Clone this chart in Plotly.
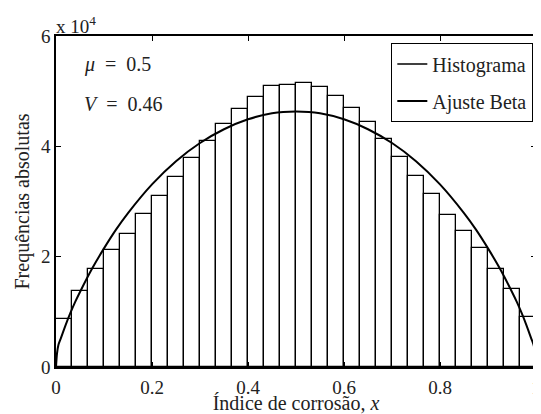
import plotly.graph_objects as go

# Histogram (units of 1e4), 30 bins on [0, 1]
bin_left = [i / 30 for i in range(30)]
counts = [0.87, 1.38, 1.78, 2.12, 2.42, 2.77, 3.10, 3.45, 3.78, 4.10,
          4.41, 4.68, 4.90, 5.09, 5.12, 5.14, 5.07, 4.91, 4.70, 4.44,
          4.14, 3.80, 3.46, 3.14, 2.75, 2.46, 2.15, 1.77, 1.42, 0.90]

# Beta fit curve (units of 1e4)
fit_x = [0, 0.002, 0.005, 0.01, 0.02, 0.03, 0.04, 0.05, 0.075, 0.1, 0.125, 0.15, 0.2,
         0.25, 0.3, 0.35, 0.4, 0.45, 0.5, 0.55, 0.6, 0.65, 0.7, 0.75, 0.8, 0.85,
         0.875, 0.9, 0.925, 0.95, 0.96, 0.97, 0.98, 0.99, 0.995, 0.998, 1.0]
fit_y = [0, 0.24, 0.40, 0.52, 0.76, 0.98, 1.18, 1.36, 1.78, 2.15, 2.49, 2.79, 3.31,
         3.73, 4.06, 4.31, 4.49, 4.60, 4.63, 4.60, 4.49, 4.31, 4.06, 3.73, 3.31, 2.79,
         2.49, 2.15, 1.78, 1.36, 1.18, 0.98, 0.76, 0.52, 0.40, 0.24, 0]

x_ticks = [0, 0.2, 0.4, 0.6, 0.8, 1]
x_tick_text = ["0", "0.2", "0.4", "0.6", "0.8", "1"]
y_ticks = [0, 2, 4, 6]
y_tick_text = ["0", "2", "4", "6"]

FONT = "Liberation Serif, DejaVu Serif, Times New Roman, serif"
TXT = "#222"
width = 1 / 30
centers = [b + width / 2 for b in bin_left]

fig = go.Figure()
fig.add_trace(go.Bar(
    x=centers, y=counts, width=width,
    marker=dict(color="white", line=dict(color="black", width=1.3)),
    showlegend=False,
))
# legend proxy for histogram (line sample as in reference)
fig.add_trace(go.Scatter(
    x=[None], y=[None], mode="lines", name="Histograma", legendgroup="h",
    line=dict(color="black", width=1.3),
))
fig.add_trace(go.Scatter(
    x=fit_x, y=fit_y, mode="lines", name="Ajuste Beta", legendgroup="b",
    line=dict(color="black", width=2, shape="spline", smoothing=0.6),
))

fig.update_layout(
    width=533, height=406,
    margin=dict(l=48, r=0, t=28, b=44),
    paper_bgcolor="white", plot_bgcolor="white",
    font=dict(family=FONT, size=20, color=TXT),
    bargap=0,
    showlegend=True,
    legend=dict(
        x=0.994, y=0.978, xanchor="right", yanchor="top",
        bgcolor="white", bordercolor="black", borderwidth=1.2,
        font=dict(family=FONT, size=20, color=TXT),
        itemwidth=30, tracegroupgap=8,
    ),
    xaxis=dict(
        range=[0, 1], tickvals=x_ticks, ticktext=x_tick_text,
        ticks="inside", ticklen=5, tickcolor="black", tickwidth=1,
        showline=True, linecolor="black", linewidth=1.5, mirror="ticks",
        showgrid=False, zeroline=False,
        ticklabelstandoff=2, ticklabeloverflow="allow",
        title=dict(text="Índice de corrosão, <i>x</i>", standoff=2,
                   font=dict(family=FONT, size=20)),
        tickfont=dict(family=FONT, size=19),
    ),
    yaxis=dict(
        range=[0, 6], tickvals=y_ticks, ticktext=y_tick_text,
        ticks="inside", ticklen=5, tickcolor="black", tickwidth=1,
        showline=True, linecolor="black", linewidth=1.5, mirror="ticks",
        showgrid=False, zeroline=False,
        title=dict(text="Frequências absolutas", standoff=6,
                   font=dict(family=FONT, size=20)),
        tickfont=dict(family=FONT, size=19),
    ),
    annotations=[
        dict(text="x 10<sup>4</sup>", xref="paper", yref="paper", x=0, y=1,
             xanchor="left", yanchor="bottom", showarrow=False, yshift=-3, xshift=-2,
             font=dict(family=FONT, size=19)),
        dict(text="<i>μ</i>\u2002=\u20020.5", xref="paper", yref="paper", x=0.054, y=0.913,
             xanchor="left", yanchor="middle", showarrow=False,
             font=dict(family=FONT, size=20)),
        dict(text="<i>V</i>\u2002=\u20020.46", xref="paper", yref="paper", x=0.054, y=0.796,
             xanchor="left", yanchor="middle", showarrow=False,
             font=dict(family=FONT, size=20)),
    ],
)

fig.write_html("out.html")
